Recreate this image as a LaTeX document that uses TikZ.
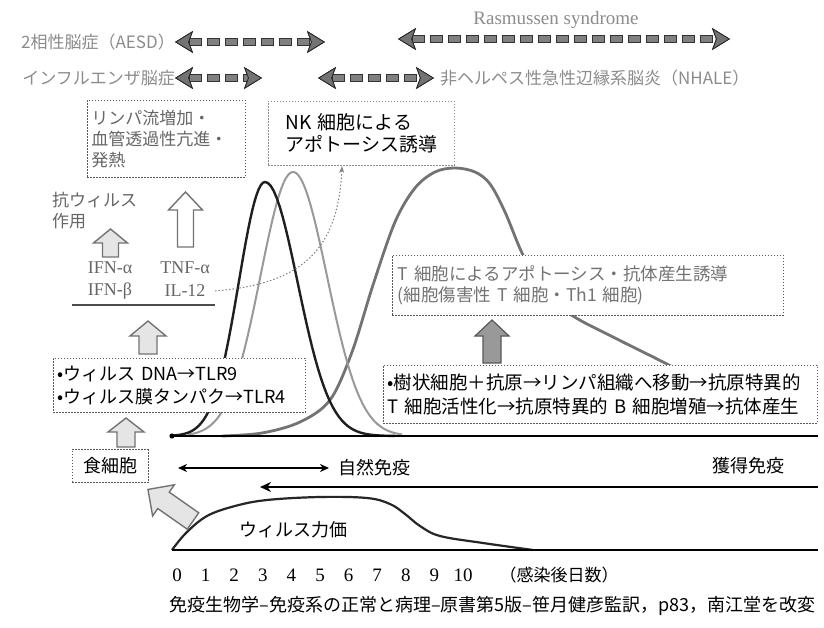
\documentclass[tikz,border=0pt]{standalone}
\usepackage{fontspec}
\newfontfamily\jp{Noto Sans CJK JP}
\newfontfamily\lser{Liberation Serif}
\usetikzlibrary{arrows.meta}
\definecolor{lgray}{gray}{0.55}
\definecolor{mgray}{gray}{0.40}
\newcommand{\FatArrow}[7]{%
  \draw[#1, shift={#2}, rotate=#3] (0,-#5) -- ({#4-#7},-#5) -- ({#4-#7},-#6) -- (#4,0)
     -- ({#4-#7},#6) -- ({#4-#7},#5) -- (0,#5) -- cycle;}
\tikzset{
  toplab/.style={font=\jp\fontsize{17}{20}\selectfont, text=lgray, inner sep=0pt},
  fattips/.style={arrows={Stealth[length=18pt,width=22pt,inset=4pt,line width=0.8pt,color=black!85,fill=black!55]-Stealth[length=18pt,width=22pt,inset=4pt,line width=0.8pt,color=black!85,fill=black!55]}},
  fatouter/.style={fattips, line width=7.5pt, draw=black!80, dash pattern=on 13pt off 5pt},
  fatinner/.style={fattips, line width=5.5pt, draw=black!50, dash pattern=on 11pt off 7pt, dash phase=17pt},
  dbox/.style={draw=black!65, line width=0.9pt, dash pattern=on 1.6pt off 1.4pt, fill=white, inner sep=4pt},
  t17/.style={font=\jp\fontsize{17}{21}\selectfont},
  t18/.style={font=\jp\fontsize{18}{23}\selectfont},
  lser18/.style={font=\lser\fontsize{18}{21}\selectfont},
  hollow/.style={draw=black!55, line width=1.4pt, fill=black!10, line join=miter},
  hollowwhite/.style={draw=black!55, line width=1.4pt, fill=white, line join=miter},
  grayfat/.style={draw=black!65, line width=1.2pt, fill=black!40, line join=miter},
  blackcurve/.style={draw=black!88, line width=2.4pt},
  lightcurve/.style={draw=black!40, line width=2pt},
  bigcurve/.style={draw=black!55, line width=2.8pt},
  axisline/.style={draw=black, line width=2.6pt},
}
\begin{document}
\begin{tikzpicture}[x=1pt,y=-1pt]
\useasboundingbox (0,0) rectangle (824,628);
\fill[white] (0,0) rectangle (824,628);

% ---------- top labels and arrows ----------
\node[toplab, anchor=east] (aesd) at (175,42) {2相性脳症（AESD）};
\node[toplab, anchor=east] (flu) at (175,78) {インフルエンザ脳症};
\node[font=\lser\fontsize{19}{22}\selectfont, text=lgray] (ras) at (556,20) {Rasmussen syndrome};
\node[toplab, anchor=west] (nhale) at (440,78) {非ヘルペス性急性辺縁系脳炎（NHALE）};

\coordinate (a1e) at (325,42);
\coordinate (a2e) at (262,78);
\coordinate (a3s) at (398,39); \coordinate (a3e) at (730,39);
\coordinate (a4s) at (318,78);
\draw[fatouter] (aesd.east) -- (a1e); \draw[fatinner] (aesd.east) -- (a1e);
\draw[fatouter] (flu.east) -- (a2e);  \draw[fatinner] (flu.east) -- (a2e);
\draw[fatouter] (a3s) -- (a3e);       \draw[fatinner] (a3s) -- (a3e);
\draw[fatouter] (a4s) -- ([xshift=-6pt]nhale.west); \draw[fatinner] (a4s) -- ([xshift=-6pt]nhale.west);

% ---------- curves ----------
\draw[bigcurve] plot[smooth, tension=0.55] coordinates {(222,436) (262,433) (300,422) (330,400) (352,352) (373,285) (395,222) (415,188) (435,172) (455,168) (475,172) (490,184) (505,212) (523,255) (545,292)};
\draw[bigcurve] plot[smooth, tension=0.55] coordinates {(540,285) (570,314) (615,338) (663,362) (720,392) (760,410)};
\draw[lightcurve] plot[domain=188:293, samples=45] (\x,{436-264*exp(-((\x-293)/46)*((\x-293)/46))})
   -- plot[domain=293:402, samples=45] (\x,{436-264*exp(-((\x-293)/48)*((\x-293)/48))});
\draw[blackcurve] plot[domain=172:265, samples=45] (\x,{436-254*exp(-((\x-265)/37)*((\x-265)/37))})
   -- plot[domain=265:395, samples=45] (\x,{436-254*exp(-((\x-265)/46)*((\x-265)/46))});

% ---------- axis lines ----------
\coordinate (b1s) at (172,436); \coordinate (b1e) at (818,436);
\draw[axisline] (b1s) -- (b1e);
\fill (b1s) circle (2.6);

% ---------- boxes ----------
\node[dbox, t17, text=mgray, anchor=north west, minimum width=158pt, minimum height=77pt, text width=150pt, align=left] (lymph) at (87,100) {リンパ流増加・\\血管透過性亢進・\\発熱};
\node[dbox, font=\jp\fontsize{19}{22}\selectfont, anchor=north west, minimum width=186pt, minimum height=64pt, text width=152pt, align=left, draw=black!45] (nk) at (268,101) {NK 細胞による\\アポトーシス誘導};
\node[dbox, font=\jp\fontsize{17.5}{21}\selectfont, text=black!55, anchor=north west, minimum width=391pt, minimum height=60pt, text width=380pt, align=left] (tbox) at (392,255) {T 細胞によるアポトーシス・抗体産生誘導\\(細胞傷害性 T 細胞・Th1 細胞)};
\node[dbox, font=\jp\fontsize{18.5}{24}\selectfont, anchor=north west, minimum width=434pt, minimum height=58pt, text width=426pt, align=left] (dend) at (383,365) {•樹状細胞＋抗原→リンパ組織へ移動→抗原特異的\\T 細胞活性化→抗原特異的 B 細胞増殖→抗体産生};
\node[dbox, t18, anchor=north west, minimum width=252pt, minimum height=54pt, text width=244pt, align=left] (tlr) at (53,358) {•ウィルス DNA→TLR9\\•ウィルス膜タンパク→TLR4};
\node[dbox, t18, minimum width=76pt, minimum height=33pt] (phago) at (110,466) {食細胞};

% ---------- left column texts ----------
\node[t17, text=mgray, anchor=north west, align=left, inner sep=0pt] (antiv) at (52,192) {抗ウィルス\\作用};
\node[lser18, text=mgray] (ifna) at (110,268) {IFN-α};
\node[lser18, text=mgray] (ifnb) at (110,291) {IFN-β};
\node[lser18, text=mgray] (tnf) at (185,268) {TNF-α};
\node[lser18, text=mgray] (il12) at (185,291) {IL-12};
\coordinate (ls) at (72,305); \coordinate (le) at (215,305);
\draw[line width=1.6pt, black!70] (ls) -- (le);

% ---------- fat arrows ----------
\FatArrow{hollow}{(110.5,257)}{90}{28}{8}{17}{14}
\FatArrow{hollowwhite}{(185.5,247)}{90}{55}{8}{17}{18}
\FatArrow{hollow}{(148,354)}{90}{33}{9}{18}{15}
\FatArrow{hollow}{(126,447)}{90}{29}{9}{18}{14}
\FatArrow{hollow}{(193,521)}{145}{55}{10}{19}{19}
\FatArrow{grayfat}{(492,363)}{90}{43}{9}{17}{16}

% ---------- NK dotted arrow ----------
\coordinate (nkend) at (342,166);
\draw[black!50, line width=1pt, dash pattern=on 1.5pt off 2pt, -{Stealth[length=7pt,width=5pt]}] ([xshift=6pt]il12.east) .. controls (300,284) and (338,252) .. (nkend);

% ---------- immune arrows ----------
\node[t18, anchor=west] (innate) at (335,468) {自然免疫};
\coordinate (ins) at (178,468);
\draw[line width=1.8pt, arrows={Stealth[length=9pt,width=8pt]-Stealth[length=9pt,width=8pt]}] (ins) -- ([xshift=-6pt]innate.west);
\node[t18, anchor=east] (acq) at (788,466) {獲得免疫};
\coordinate (acs) at (818,487); \coordinate (ace) at (260,487);
\draw[line width=2.6pt, arrows={-Stealth[length=11pt,width=10pt]}] (acs) -- (ace);

% ---------- virus titer ----------
\draw[line width=2.2pt, black!85] plot[smooth, tension=0.6] coordinates {(172,550) (186,533) (207,516) (235,506) (267,500) (320,497) (367,498) (390,504) (405,514) (420,526) (440,536) (483,543) (533,550)};
\coordinate (b2s) at (172,550); \coordinate (b2e) at (818,550);
\draw[axisline, line width=2.2pt] (b2s) -- (b2e);
\node[t18] (titer) at (293,530) {ウィルス力価};

% ---------- axis numbers ----------
\foreach \i in {0,...,10} {
  \node[font=\lser\fontsize{19}{22}\selectfont] (n\i) at ({177+28.6*\i},575) {\i};
}
\node[t17, anchor=west] (days) at (496,575) {（感染後日数）};

% ---------- caption ----------
\node[font=\jp\fontsize{18}{21}\selectfont, anchor=east] (cap) at (819,606) {免疫生物学–免疫系の正常と病理–原書第5版–笹月健彦監訳，p83，南江堂を改変};
\end{tikzpicture}
\end{document}
